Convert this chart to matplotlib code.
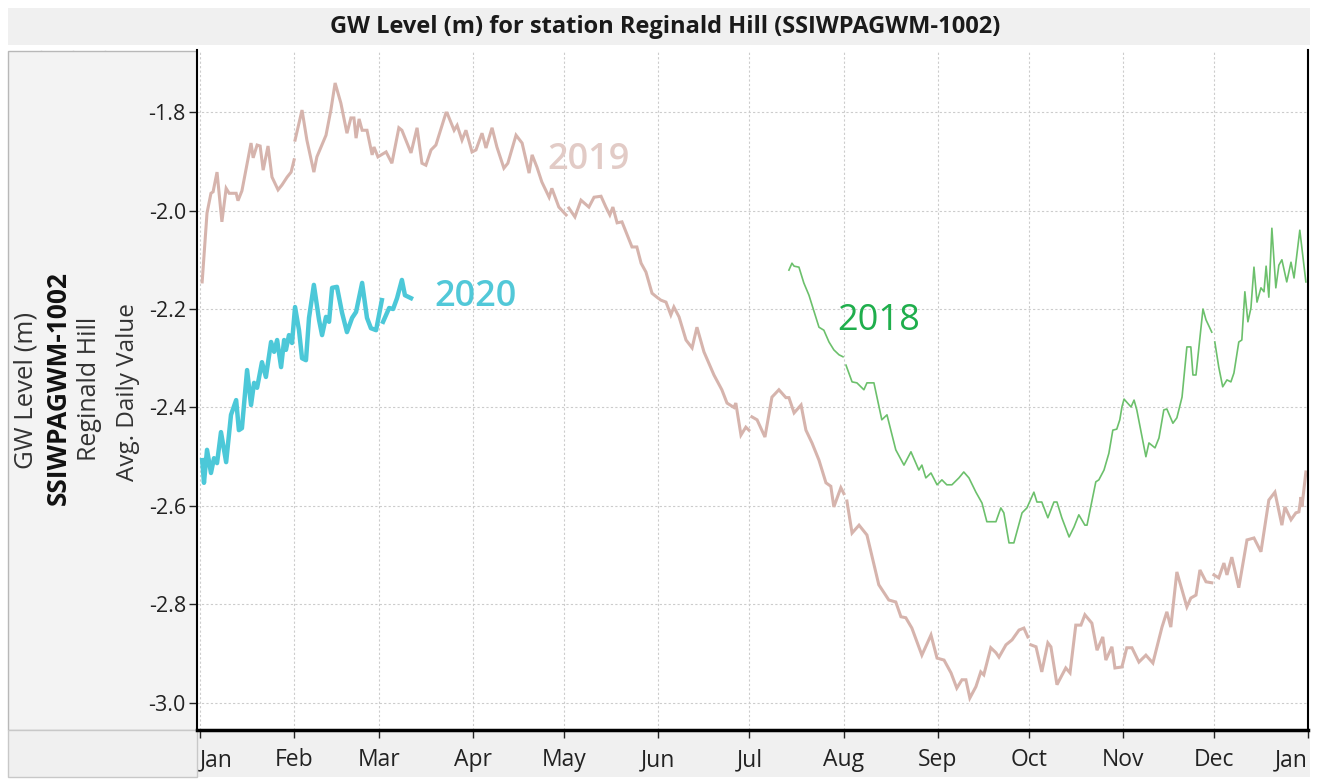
import numpy as np
import matplotlib
matplotlib.use("Agg")
import matplotlib.pyplot as plt
from matplotlib.patches import Rectangle

plt.rcParams['font.family'] = ['Open Sans', 'DejaVu Sans']
plt.rcParams['axes.unicode_minus'] = False

nan = np.nan

# day of year (0 = 1 Jan) and avg daily GW level (m); nan = break in the record
days_2019 = [0.7, 2.3, 3.6, 4.3, 5.6, 7.2, 8.6, 9.6, 11.9, 12.5, 13.8, 16.8, 17.5, 18.8, 19.8, 20.8,
             22.4, 23.7, 25.7, 27.0, 28.7, 30.0, 31.0, 31.1, 31.3, 33.6, 35.2, 37.5, 38.5, 41.5, 43.1,
             44.5, 46.4, 48.4, 49.7, 50.7, 51.4, 52.4, 53.4, 55.0, 56.7, 57.3, 58.6, 61.3, 63.2, 65.5,
             66.5, 69.5, 71.5, 73.1, 74.4, 76.1, 77.7, 81.0, 81.4, 83.7, 84.7, 86.3, 87.6, 89.6, 90.9,
             92.9, 94.2, 96.2, 97.8, 100.1, 101.4, 104.1, 106.1, 108.4, 109.4, 111.0, 112.6, 115.0,
             115.9, 118.2, 120.6, 120.9, 121.5, 123.5, 125.5, 128.1, 129.8, 132.1, 133.7, 135.0, 136.0,
             137.4, 139.0, 142.3, 143.9, 145.3, 146.9, 148.9, 150.5, 151.8, 153.5, 155.1, 156.1, 157.8,
             160.1, 162.1, 163.7, 166.0, 169.3, 171.9, 173.6, 175.9, 176.5, 178.2, 179.8, 180.8, 181.2,
             181.8, 183.5, 186.1, 188.4, 190.7, 193.0, 194.0, 195.7, 198.0, 199.6, 201.6, 203.9, 206.2,
             207.8, 208.8, 211.1, 212.1, 212.5, 213.1, 214.8, 217.1, 219.7, 223.6, 226.9, 229.2, 230.9,
             232.5, 234.5, 237.8, 240.8, 242.8, 245.1, 247.4, 249.3, 251.0, 252.3, 253.6, 255.6, 257.2,
             258.2, 260.5, 262.2, 263.2, 265.5, 267.5, 269.8, 271.4, 272.7, 273.2, 273.7, 275.4, 277.3,
             279.3, 280.3, 282.3, 285.2, 286.6, 288.5, 290.2, 291.5, 293.8, 295.5, 297.4, 298.4, 300.4,
             301.4, 303.7, 305.3, 307.0, 309.3, 311.6, 313.9, 316.9, 318.5, 319.8, 321.8, 323.5, 325.1,
             326.4, 328.1, 329.4, 331.4, 333.3, 333.6, 334.0, 335.6, 337.3, 338.3, 339.9, 342.2, 344.9,
             347.2, 349.5, 352.1, 354.1, 356.4, 357.4, 359.4, 361.0, 362.0, 362.7, 363.0, 364.3]
level_2019 = [-2.145, -2.005, -1.965, -1.962, -1.922, -2.023, -1.955, -1.965, -1.965, -1.980, -1.960,
              -1.863, -1.893, -1.867, -1.869, -1.918, -1.869, -1.932, -1.958, -1.948, -1.932, -1.922,
              -1.897, nan, -1.857, -1.796, -1.857, -1.922, -1.891, -1.847, -1.796, -1.741, -1.782,
              -1.843, -1.812, -1.812, -1.853, -1.814, -1.837, -1.837, -1.887, -1.871, -1.891, -1.881,
              -1.904, -1.832, -1.837, -1.883, -1.832, -1.904, -1.908, -1.877, -1.867, -1.802, -1.802,
              -1.837, -1.827, -1.857, -1.837, -1.881, -1.877, -1.843, -1.873, -1.832, -1.871, -1.914,
              -1.904, -1.847, -1.863, -1.924, -1.887, -1.912, -1.942, -1.973, -1.955, -1.993, -2.009,
              nan, -1.995, -2.013, -1.979, -1.993, -1.973, -1.971, -1.993, -2.009, -1.993, -2.025,
              -2.023, -2.074, -2.074, -2.107, -2.125, -2.168, -2.176, -2.182, -2.186, -2.212, -2.196,
              -2.216, -2.263, -2.279, -2.237, -2.287, -2.334, -2.364, -2.391, -2.400, -2.391, -2.456,
              -2.440, -2.446, nan, -2.419, -2.425, -2.460, -2.379, -2.364, -2.380, -2.380, -2.411,
              -2.395, -2.446, -2.472, -2.507, -2.553, -2.560, -2.602, -2.563, -2.575, nan, -2.590,
              -2.655, -2.639, -2.659, -2.760, -2.791, -2.795, -2.825, -2.827, -2.848, -2.903, -2.862,
              -2.909, -2.913, -2.939, -2.970, -2.953, -2.953, -2.990, -2.967, -2.937, -2.943, -2.888,
              -2.898, -2.907, -2.882, -2.872, -2.852, -2.848, -2.866, nan, -2.882, -2.886, -2.937,
              -2.878, -2.886, -2.963, -2.929, -2.939, -2.842, -2.842, -2.821, -2.838, -2.893, -2.866,
              -2.913, -2.886, -2.929, -2.927, -2.888, -2.888, -2.917, -2.903, -2.919, -2.846, -2.815,
              -2.846, -2.734, -2.771, -2.805, -2.787, -2.781, -2.730, -2.754, -2.756, nan, -2.740,
              -2.746, -2.716, -2.740, -2.704, -2.766, -2.669, -2.665, -2.693, -2.588, -2.572, -2.639,
              -2.602, -2.628, -2.614, -2.612, -2.582, -2.602, -2.531]

days_2020 = [0.7, 1.3, 2.3, 3.6, 4.6, 5.6, 6.9, 8.6, 10.2, 11.9, 12.8, 13.8, 15.5, 16.8, 17.8, 18.8,
             20.4, 21.7, 23.4, 24.4, 25.4, 26.7, 27.7, 28.3, 29.3, 30.3, 31.3, 32.6, 33.6, 34.9, 35.9,
             37.5, 39.2, 40.2, 41.5, 42.5, 43.5, 45.1, 46.8, 48.4, 50.1, 51.4, 53.4, 55.0, 56.3, 58.0,
             59.9, 60.1, 60.3, 62.3, 63.6, 64.9, 66.5, 67.5, 69.5]
level_2020 = [-2.507, -2.553, -2.486, -2.533, -2.503, -2.513, -2.450, -2.511, -2.415, -2.385, -2.446,
              -2.442, -2.324, -2.395, -2.350, -2.360, -2.308, -2.338, -2.267, -2.287, -2.263, -2.318,
              -2.263, -2.283, -2.253, -2.269, -2.196, -2.243, -2.300, -2.304, -2.218, -2.151, -2.222,
              -2.253, -2.216, -2.226, -2.157, -2.155, -2.208, -2.247, -2.218, -2.206, -2.147, -2.218,
              -2.239, -2.243, -2.182, nan, -2.226, -2.198, -2.200, -2.178, -2.141, -2.172, -2.178]

days_2018 = [194.0, 195.0, 195.7, 197.3, 198.9, 200.6, 203.9, 205.5, 207.2, 208.8, 210.5, 211.8, 212.3,
             212.8, 214.8, 216.4, 218.7, 219.7, 222.0, 224.6, 226.3, 229.2, 231.9, 234.2, 236.8, 237.8,
             239.1, 240.8, 242.8, 244.4, 246.0, 247.7, 250.0, 251.6, 253.3, 255.6, 257.6, 259.2, 262.2,
             263.8, 264.8, 266.5, 268.1, 270.8, 272.4, 274.7, 275.7, 277.3, 279.3, 281.3, 282.3, 283.9,
             286.3, 287.9, 289.5, 291.5, 292.2, 295.1, 296.1, 297.8, 299.4, 300.7, 302.0, 303.0, 303.7,
             304.4, 305.4, 306.7, 307.7, 308.6, 311.6, 312.6, 314.6, 315.9, 317.5, 318.5, 320.5, 321.8,
             323.5, 325.1, 326.4, 327.1, 328.1, 330.4, 331.4, 333.3, 333.8, 334.3, 335.6, 336.9, 338.3,
             339.6, 340.6, 342.2, 343.2, 344.2, 345.2, 346.2, 347.2, 348.2, 349.5, 350.5, 351.2, 352.1,
             353.1, 354.4, 355.4, 356.4, 358.0, 359.4, 360.4, 362.3, 364.3]
level_2018 = [-2.121, -2.107, -2.113, -2.115, -2.147, -2.172, -2.237, -2.243, -2.267, -2.283, -2.293,
              -2.297, nan, -2.314, -2.348, -2.350, -2.364, -2.350, -2.350, -2.425, -2.415, -2.486,
              -2.517, -2.490, -2.527, -2.517, -2.543, -2.533, -2.557, -2.547, -2.557, -2.557, -2.543,
              -2.531, -2.543, -2.572, -2.594, -2.632, -2.632, -2.604, -2.614, -2.675, -2.675, -2.614,
              -2.604, -2.572, -2.592, -2.592, -2.624, -2.592, -2.592, -2.624, -2.663, -2.643, -2.618,
              -2.639, -2.639, -2.551, -2.547, -2.527, -2.493, -2.446, -2.444, -2.425, -2.399, -2.383,
              -2.390, -2.399, -2.385, -2.405, -2.500, -2.472, -2.482, -2.462, -2.405, -2.403, -2.432,
              -2.421, -2.379, -2.277, -2.277, -2.334, -2.334, -2.200, -2.222, -2.247, nan, -2.267,
              -2.318, -2.358, -2.344, -2.348, -2.330, -2.267, -2.263, -2.165, -2.226, -2.198, -2.115,
              -2.186, -2.157, -2.165, -2.113, -2.176, -2.036, -2.157, -2.111, -2.100, -2.145, -2.105,
              -2.137, -2.040, -2.145]

month_days = [0, 31, 59, 90, 120, 151, 181, 212, 243, 273, 304, 334, 365]
month_labels = ['Jan', 'Feb', 'Mar', 'Apr', 'May', 'Jun', 'Jul', 'Aug', 'Sep', 'Oct', 'Nov', 'Dec', 'Jan']
y_ticks = [-1.8, -2.0, -2.2, -2.4, -2.6, -2.8, -3.0]

W, H = 1317, 779
fig = plt.figure(figsize=(W / 100, H / 100), dpi=100)


def fx(x):
    return x / W


def fy(y):
    return 1 - y / H


def box(x0, y0, x1, y1, face, edge='none'):
    r = Rectangle((fx(x0), fy(y1)), (x1 - x0) / W, (y1 - y0) / H, transform=fig.transFigure,
                  facecolor=face, edgecolor=edge, lw=1, zorder=-1)
    fig.patches.append(r)


# frame pieces around the plot
box(8, 8, 1310, 45, '#f0f0f0')
box(8, 51, 197, 730, '#f3f3f3', '#b8b8b8')
box(8, 730, 1310, 777, '#f0f0f0')
box(8, 730, 197, 777, '#f0f0f0', '#c8c8c8')
for xl in [41, 73, 105]:
    fig.add_artist(plt.Line2D([fx(xl), fx(xl)], [fy(51), fy(730)], transform=fig.transFigure,
                              color='#b8b8b8', lw=1, zorder=-1))

fig.text(fx(665), fy(27), 'GW Level (m) for station Reginald Hill (SSIWPAGWM-1002)',
         ha='center', va='center', fontsize=17, fontweight='bold', color='#1a1a1a')
fig.text(fx(26), fy(390), 'GW Level (m)', rotation=90, ha='center', va='center', fontsize=18.5,
         color='#333333')
fig.text(fx(58), fy(388), 'SSIWPAGWM-1002', rotation=90, ha='center', va='center', fontsize=19,
         fontweight='bold', color='#111111')
fig.text(fx(90), fy(389), 'Reginald Hill', rotation=90, ha='center', va='center', fontsize=18,
         color='#333333')
fig.text(fx(128), fy(392), 'Avg. Daily Value', rotation=90, ha='center', va='center', fontsize=17.5,
         color='#333333')

ax = fig.add_axes([fx(197), fy(730), (1308 - 197) / W, (730 - 50) / H])
ax.set_facecolor('white')

ax.plot(days_2019, level_2019, color='#d6b4ad', lw=2.2, solid_joinstyle='miter')
ax.plot(days_2018, level_2018, color='#6cc06c', lw=1.2)
ax.plot(days_2020, level_2020, color='#4cc8d8', lw=3.2)

ax.text(128.1, -1.897, '2019', color='#e2cbc6', fontsize=26, fontweight='semibold', ha='center', va='center')
ax.text(90.6, -2.176, '2020', color='#52c8d8', fontsize=26, fontweight='semibold', ha='center', va='center')
ax.text(223.6, -2.224, '2018', color='#1fae4c', fontsize=26, ha='center', va='center')

ax.set_xlim(-1, 365)
ax.set_ylim(-3.055, -1.674)
ax.set_xticks(month_days)
ax.set_xticklabels(month_labels, fontsize=16.5, color='#222222')
lbls = ax.get_xticklabels()
lbls[0].set_ha('left')
lbls[-1].set_ha('right')
ax.set_yticks(y_ticks)
ax.set_yticklabels(['%.1f' % v for v in y_ticks], fontsize=15.5, color='#222222')

ax.grid(True, color='#cccccc', ls=(0, (2, 2)), lw=0.8)
ax.tick_params(axis='both', direction='out', length=6, width=1, color='#222222')
ax.tick_params(axis='x', pad=7)
ax.tick_params(axis='y', pad=2)

ax.spines['top'].set_visible(False)
ax.spines['left'].set_linewidth(1.5)
ax.spines['right'].set_linewidth(1.5)
ax.spines['bottom'].set_linewidth(2.5)

fig.savefig('out.png', dpi=100)
